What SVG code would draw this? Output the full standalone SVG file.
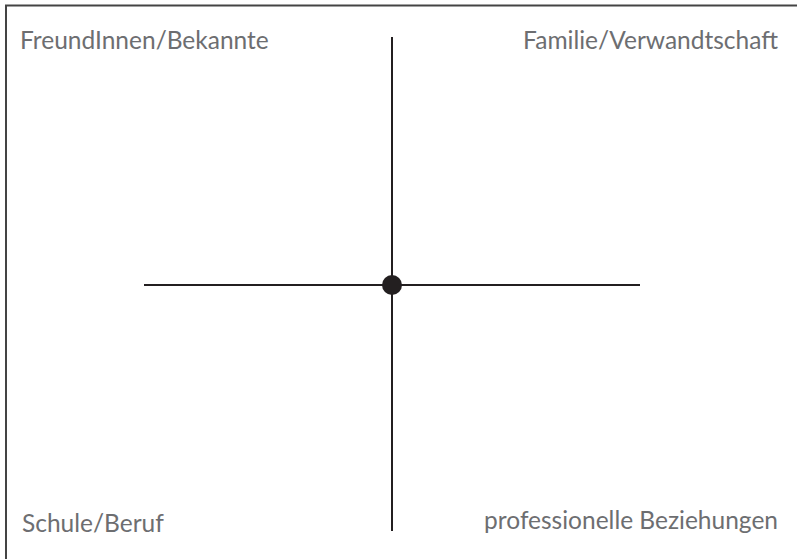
<svg xmlns="http://www.w3.org/2000/svg" width="797" height="559" viewBox="0 0 797 559">
<style>
.lbl{font-family:"Lato","Open Sans","Liberation Sans",sans-serif;font-size:24.5px;fill:#6d6e71}
.ax{stroke:#231f20;stroke-width:2;fill:none}
</style>
<rect width="797" height="559" fill="#ffffff"/>
<path d="M6 559 V5.5 H797" stroke="#444" stroke-width="2" fill="none"/>
<g id="connectors">
<line class="ax" x1="392" y1="37" x2="392" y2="531"/>
<line class="ax" x1="144" y1="285" x2="640" y2="285"/>
</g>
<g id="center"><circle cx="392" cy="285" r="10" fill="#231f20"/></g>
<g id="q1"><text class="lbl" x="20" y="49">FreundInnen/Bekannte</text></g>
<g id="q2"><text class="lbl" x="778" y="49" text-anchor="end">Familie/Verwandtschaft</text></g>
<g id="q3"><text class="lbl" x="22" y="532">Schule/Beruf</text></g>
<g id="q4"><text class="lbl" x="778" y="529" text-anchor="end">professionelle Beziehungen</text></g>
</svg>
